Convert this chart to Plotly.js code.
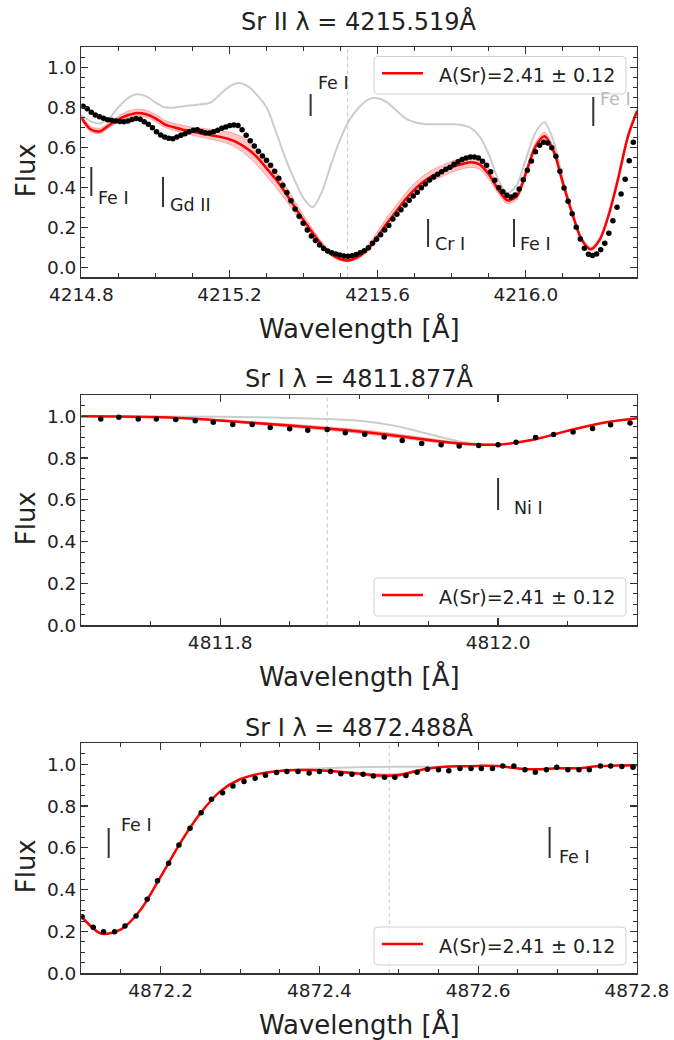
<!DOCTYPE html>
<html><head><meta charset="utf-8">
<script src="https://cdn.plot.ly/plotly-3.0.1.min.js"></script>
<style>html,body{margin:0;padding:0;background:#fff}#chart{width:674px;height:1040px}</style>
</head><body><div id="chart"></div>
<script>
// ---------------- DATA ----------------
const panelTitles = ['Sr II λ = 4215.519Å', 'Sr I λ = 4811.877Å', 'Sr I λ = 4872.488Å'];
const lineCenters = [4215.519, 4811.877, 4872.488];
const fitLabel = 'A(Sr)=2.41 ± 0.12';

// Panel 1 : Sr II 4215.519
const wl1m = [4214.800,4214.825,4214.850,4214.875,4214.900,4214.925,4214.950,4214.975,4215.000,4215.025,4215.050,4215.075,4215.100,4215.125,4215.150,4215.175,4215.200,4215.225,4215.250,4215.275,4215.300,4215.325,4215.350,4215.375,4215.400,4215.425,4215.450,4215.475,4215.500,4215.525,4215.550,4215.575,4215.600,4215.625,4215.650,4215.675,4215.700,4215.725,4215.750,4215.775,4215.800,4215.825,4215.850,4215.875,4215.900,4215.925,4215.950,4215.975,4216.000,4216.025,4216.050,4216.075,4216.100,4216.125,4216.150,4216.175,4216.200,4216.225,4216.250,4216.275,4216.300];
const red1 = [0.748,0.690,0.680,0.710,0.740,0.760,0.772,0.765,0.745,0.715,0.700,0.688,0.678,0.668,0.660,0.652,0.640,0.620,0.590,0.550,0.495,0.440,0.375,0.305,0.235,0.170,0.110,0.065,0.040,0.035,0.055,0.095,0.155,0.220,0.280,0.340,0.390,0.430,0.460,0.480,0.500,0.515,0.525,0.515,0.465,0.390,0.335,0.355,0.470,0.600,0.655,0.580,0.420,0.270,0.140,0.090,0.140,0.270,0.450,0.650,0.780];
const hi1 = [0.760,0.705,0.695,0.725,0.755,0.780,0.790,0.785,0.765,0.735,0.720,0.710,0.700,0.695,0.690,0.685,0.675,0.660,0.635,0.595,0.540,0.480,0.410,0.335,0.260,0.190,0.125,0.075,0.048,0.045,0.070,0.115,0.180,0.250,0.310,0.370,0.420,0.460,0.490,0.510,0.530,0.545,0.555,0.545,0.495,0.415,0.355,0.375,0.490,0.620,0.675,0.600,0.435,0.280,0.148,0.095,0.145,0.275,0.455,0.655,0.785];
const lo1 = [0.735,0.678,0.668,0.698,0.728,0.748,0.758,0.750,0.728,0.700,0.684,0.672,0.660,0.650,0.640,0.630,0.615,0.590,0.555,0.510,0.455,0.400,0.340,0.275,0.210,0.150,0.095,0.055,0.033,0.030,0.045,0.080,0.135,0.195,0.255,0.315,0.365,0.405,0.435,0.455,0.475,0.490,0.500,0.490,0.440,0.370,0.318,0.338,0.452,0.585,0.640,0.565,0.410,0.262,0.135,0.085,0.135,0.265,0.445,0.645,0.775];
const gray1 = [0.760,0.730,0.720,0.745,0.800,0.845,0.865,0.855,0.825,0.800,0.798,0.805,0.810,0.815,0.825,0.865,0.905,0.922,0.905,0.860,0.800,0.680,0.550,0.440,0.345,0.300,0.380,0.520,0.645,0.740,0.800,0.840,0.845,0.825,0.785,0.745,0.725,0.717,0.715,0.715,0.715,0.712,0.698,0.655,0.565,0.440,0.370,0.410,0.540,0.670,0.725,0.630,0.440,0.280,0.150,0.100,0.150,0.280,0.460,0.660,0.790];
const wl1 = [4214.805,4214.816,4214.827,4214.838,4214.849,4214.860,4214.871,4214.882,4214.893,4214.904,4214.915,4214.926,4214.937,4214.948,4214.959,4214.970,4214.981,4214.992,4215.003,4215.014,4215.025,4215.036,4215.047,4215.058,4215.069,4215.080,4215.091,4215.102,4215.113,4215.124,4215.135,4215.146,4215.157,4215.168,4215.179,4215.190,4215.201,4215.212,4215.223,4215.234,4215.245,4215.256,4215.267,4215.278,4215.289,4215.300,4215.311,4215.322,4215.333,4215.344,4215.355,4215.366,4215.377,4215.388,4215.399,4215.410,4215.421,4215.432,4215.443,4215.454,4215.465,4215.476,4215.487,4215.498,4215.509,4215.520,4215.531,4215.542,4215.553,4215.564,4215.575,4215.586,4215.597,4215.608,4215.619,4215.630,4215.641,4215.652,4215.663,4215.674,4215.685,4215.696,4215.707,4215.718,4215.729,4215.740,4215.751,4215.762,4215.773,4215.784,4215.795,4215.806,4215.817,4215.828,4215.839,4215.850,4215.861,4215.872,4215.883,4215.894,4215.905,4215.916,4215.927,4215.938,4215.949,4215.960,4215.971,4215.982,4215.993,4216.004,4216.015,4216.026,4216.037,4216.048,4216.059,4216.070,4216.081,4216.092,4216.103,4216.114,4216.125,4216.136,4216.147,4216.158,4216.169,4216.180,4216.191,4216.202,4216.213,4216.224,4216.235,4216.246,4216.257,4216.268,4216.279,4216.290];
const flux1 = [0.805,0.793,0.775,0.762,0.753,0.745,0.738,0.735,0.732,0.729,0.728,0.732,0.739,0.744,0.740,0.728,0.715,0.698,0.678,0.662,0.652,0.645,0.643,0.651,0.660,0.668,0.678,0.685,0.688,0.679,0.673,0.672,0.678,0.685,0.695,0.702,0.709,0.711,0.709,0.688,0.660,0.633,0.607,0.580,0.557,0.535,0.510,0.480,0.445,0.410,0.374,0.333,0.292,0.255,0.220,0.187,0.157,0.134,0.111,0.094,0.082,0.073,0.066,0.061,0.057,0.055,0.058,0.064,0.073,0.083,0.098,0.120,0.140,0.163,0.187,0.209,0.241,0.265,0.288,0.311,0.335,0.357,0.375,0.398,0.416,0.436,0.452,0.465,0.478,0.490,0.500,0.515,0.528,0.539,0.547,0.551,0.552,0.546,0.530,0.510,0.478,0.435,0.398,0.378,0.360,0.352,0.362,0.392,0.438,0.485,0.532,0.578,0.610,0.625,0.622,0.598,0.555,0.480,0.397,0.330,0.268,0.200,0.142,0.095,0.065,0.059,0.067,0.088,0.120,0.170,0.233,0.300,0.367,0.440,0.533,0.625];

// Panel 2 : Sr I 4811.877
const wl2m = [4811.700,4811.725,4811.750,4811.775,4811.800,4811.825,4811.850,4811.875,4811.900,4811.925,4811.950,4811.975,4812.000,4812.025,4812.050,4812.075,4812.100];
const red2 = [1.000,0.999,0.996,0.990,0.980,0.967,0.955,0.942,0.927,0.908,0.886,0.868,0.864,0.887,0.930,0.968,0.990];
const hi2 = [1.000,0.999,0.997,0.992,0.984,0.973,0.962,0.950,0.936,0.917,0.894,0.872,0.866,0.888,0.931,0.969,0.990];
const lo2 = [1.000,0.999,0.995,0.988,0.976,0.961,0.948,0.934,0.918,0.899,0.878,0.864,0.862,0.886,0.929,0.967,0.990];
const gray2 = [1.000,1.000,0.999,0.998,0.997,0.995,0.992,0.987,0.978,0.955,0.915,0.876,0.865,0.887,0.930,0.968,0.990];
const wl2 = [4811.714,4811.727,4811.741,4811.754,4811.768,4811.782,4811.795,4811.809,4811.823,4811.836,4811.850,4811.863,4811.877,4811.890,4811.904,4811.918,4811.931,4811.945,4811.959,4811.972,4811.986,4812.000,4812.013,4812.027,4812.040,4812.054,4812.068,4812.081,4812.095];
const flux2 = [0.987,0.995,0.987,0.987,0.984,0.978,0.971,0.960,0.960,0.946,0.940,0.933,0.937,0.921,0.914,0.900,0.884,0.870,0.863,0.857,0.860,0.863,0.876,0.898,0.913,0.925,0.941,0.959,0.967];

// Panel 3 : Sr I 4872.488
const wl3m = [4872.100,4872.125,4872.150,4872.175,4872.200,4872.225,4872.250,4872.275,4872.300,4872.325,4872.350,4872.375,4872.400,4872.425,4872.450,4872.475,4872.500,4872.525,4872.550,4872.575,4872.600,4872.625,4872.650,4872.675,4872.700,4872.725,4872.750,4872.775,4872.800];
const red3 = [0.272,0.190,0.210,0.305,0.462,0.625,0.765,0.870,0.928,0.955,0.968,0.972,0.971,0.964,0.955,0.946,0.948,0.970,0.985,0.990,0.992,0.991,0.980,0.976,0.981,0.981,0.990,0.994,0.995];
const hi3 = [0.272,0.190,0.210,0.305,0.462,0.625,0.765,0.870,0.928,0.955,0.968,0.972,0.973,0.968,0.961,0.954,0.955,0.974,0.985,0.990,0.992,0.991,0.980,0.976,0.981,0.981,0.990,0.994,0.995];
const lo3 = [0.272,0.190,0.210,0.305,0.462,0.625,0.765,0.870,0.928,0.955,0.968,0.972,0.969,0.959,0.948,0.938,0.940,0.966,0.985,0.990,0.992,0.991,0.980,0.976,0.981,0.981,0.990,0.994,0.995];
const gray3 = [0.272,0.190,0.210,0.305,0.462,0.625,0.765,0.870,0.928,0.955,0.968,0.976,0.980,0.983,0.986,0.987,0.988,0.988,0.988,0.990,0.992,0.991,0.980,0.976,0.981,0.981,0.990,0.994,0.995];
const wl3 = [4872.101,4872.115,4872.128,4872.142,4872.155,4872.169,4872.183,4872.196,4872.210,4872.223,4872.237,4872.251,4872.264,4872.278,4872.291,4872.305,4872.319,4872.332,4872.346,4872.359,4872.373,4872.387,4872.400,4872.414,4872.427,4872.441,4872.455,4872.468,4872.482,4872.495,4872.509,4872.523,4872.536,4872.550,4872.563,4872.577,4872.591,4872.604,4872.618,4872.631,4872.645,4872.659,4872.672,4872.686,4872.699,4872.713,4872.727,4872.740,4872.754,4872.767,4872.781,4872.795];
const flux3 = [0.271,0.220,0.199,0.199,0.226,0.274,0.354,0.443,0.526,0.614,0.694,0.768,0.833,0.864,0.896,0.917,0.933,0.947,0.960,0.965,0.965,0.958,0.965,0.965,0.954,0.952,0.952,0.944,0.938,0.938,0.946,0.961,0.976,0.973,0.969,0.980,0.979,0.979,0.979,0.992,0.992,0.973,0.961,0.973,0.986,0.973,0.973,0.973,0.992,0.992,0.989,0.986];

// Line identifications
const lineIds1 = ['Fe I', 'Fe I', 'Gd II', 'Cr I', 'Fe I', 'Fe I'];
const lineWl1 = [4215.419, 4214.827, 4215.0205, 4215.736, 4215.968, 4216.182];
const lineIds2 = ['Ni I'];
const lineWl2 = [4812.000];
const lineIds3 = ['Fe I', 'Fe I'];
const lineWl3 = [4872.1345, 4872.690];

// ---------------- LAYOUT / STYLE ----------------
const W = 674, H = 1040;
const px = v => v / W, py = v => 1 - v / H;
const FONT = 'DejaVu Sans, sans-serif';
const INK = '#222222';
const PL = 81.3, PR = 637, PH = 230, TOPS = [47.3, 395.3, 743.3];
const TITLE_Y = [21, 378.5, 727];

// marker placement (bar extent, text offset / height)
const idLayout = [
  [{y0:0.757,y1:0.866,dx:0.0143,ty:0.921},{y0:0.357,y1:0.502,dx:0.0127,ty:0.347},{y0:0.302,y1:0.452,dx:0.0135,ty:0.312},
   {y0:0.102,y1:0.242,dx:0.0135,ty:0.117},{y0:0.102,y1:0.242,dx:0.0100,ty:0.117},{y0:0.707,y1:0.852,dx:0.0125,ty:0.842,faded:true}],
  [{y0:0.551,y1:0.704,dx:0.010,ty:0.561}],
  [{y0:0.551,y1:0.695,dx:0.013,ty:0.710},{y0:0.551,y1:0.700,dx:0.009,ty:0.557}]
];
const legendBoxes = [[374, 56.5, 626, 94], [374, 578, 626, 616], [374, 927, 626, 965]];

const panels = [
  {wlm: wl1m, red: red1, hi: hi1, lo: lo1, gray: gray1, wl: wl1, flux: flux1, ids: lineIds1, idWl: lineWl1,
   range: [4214.8, 4216.3], tick0: 4214.8, dtick: 0.4, minor: 0.1, yrange: [-0.05, 1.1]},
  {wlm: wl2m, red: red2, hi: hi2, lo: lo2, gray: gray2, wl: wl2, flux: flux2, ids: lineIds2, idWl: lineWl2,
   range: [4811.7, 4812.1], tick0: 4811.8, dtick: 0.2, minor: 0.05, yrange: [0, 1.1]},
  {wlm: wl3m, red: red3, hi: hi3, lo: lo3, gray: gray3, wl: wl3, flux: flux3, ids: lineIds3, idWl: lineWl3,
   range: [4872.1, 4872.8001], tick0: 4872.2, dtick: 0.2, minor: 0.05, yrange: [0, 1.1]}
];

function axisBase(minorDtick, minorTick0) {
  return {showline: true, linecolor: '#333', linewidth: 1.2, mirror: 'allticks',
    ticks: 'inside', ticklen: 7, tickwidth: 1.2, tickcolor: '#333',
    minor: {ticks: 'inside', ticklen: 4, tickwidth: 1, tickcolor: '#333', dtick: minorDtick, tick0: minorTick0},
    showgrid: false, zeroline: false, tickmode: 'linear',
    tickfont: {family: FONT, size: 18.5, color: INK}, tickformat: '.1f',
    automargin: false, fixedrange: true};
}

function rrect(x0, y0, x1, y1, r) {
  const f = (x, y) => px(x).toFixed(5) + ',' + py(y).toFixed(5);
  return 'M' + f(x0 + r, y0) + ' L' + f(x1 - r, y0) + ' Q' + f(x1, y0) + ' ' + f(x1, y0 + r) +
    ' L' + f(x1, y1 - r) + ' Q' + f(x1, y1) + ' ' + f(x1 - r, y1) +
    ' L' + f(x0 + r, y1) + ' Q' + f(x0, y1) + ' ' + f(x0, y1 - r) +
    ' L' + f(x0, y0 + r) + ' Q' + f(x0, y0) + ' ' + f(x0 + r, y0) + ' Z';
}

const traces = [], shapes = [], annotations = [];
const layout = {width: W, height: H, margin: {l: 0, r: 0, t: 0, b: 0, pad: 0},
  paper_bgcolor: '#fff', plot_bgcolor: '#fff', showlegend: false,
  font: {family: FONT, color: INK}};

panels.forEach((p, k) => {
  const s = k === 0 ? '' : String(k + 1);
  const xa = 'x' + s, ya = 'y' + s;
  const top = TOPS[k];
  layout['xaxis' + s] = Object.assign(axisBase(p.minor, p.tick0), {
    domain: [px(PL), px(PR)], range: p.range, tick0: p.tick0, dtick: p.dtick, anchor: ya});
  layout['yaxis' + s] = Object.assign(axisBase(0.05, 0), {
    domain: [py(top + PH), py(top)], range: p.yrange, tick0: 0, dtick: 0.2, anchor: xa});

  const common = {xaxis: xa, yaxis: ya, hoverinfo: 'skip', showlegend: false};
  traces.push(Object.assign({x: p.wlm, y: p.gray, mode: 'lines', name: 'no Sr',
    line: {color: '#cccccc', width: 2, shape: 'spline', smoothing: 0.8}}, common));
  traces.push(Object.assign({x: p.wlm, y: p.lo, mode: 'lines', name: 'lower',
    line: {color: 'rgba(255,0,0,0.28)', width: 1, shape: 'spline', smoothing: 0.8}}, common));
  traces.push(Object.assign({x: p.wlm, y: p.hi, mode: 'lines', name: 'upper', fill: 'tonexty',
    fillcolor: 'rgba(255,0,0,0.22)',
    line: {color: 'rgba(255,0,0,0.28)', width: 1, shape: 'spline', smoothing: 0.8}}, common));
  traces.push(Object.assign({x: p.wlm, y: p.red, mode: 'lines', name: fitLabel,
    line: {color: '#ff0000', width: 2.5, shape: 'spline', smoothing: 0.8}}, common));
  traces.push(Object.assign({x: p.wl, y: p.flux, mode: 'markers', name: 'observed',
    marker: {color: '#000', size: 5.5}}, common));

  // rest wavelength dashed line
  shapes.push({type: 'line', xref: xa, yref: ya + ' domain', x0: lineCenters[k], x1: lineCenters[k], y0: 0, y1: 1,
    line: {color: '#c8c8c8', width: 1, dash: '4px,3px'}, layer: 'below'});

  // line identifications
  p.ids.forEach((lab, i) => {
    const L = idLayout[k][i];
    shapes.push({type: 'line', xref: xa, yref: ya, x0: p.idWl[i], x1: p.idWl[i], y0: L.y0, y1: L.y1,
      line: {color: '#333', width: 2}, layer: 'above'});
    annotations.push({text: lab, xref: xa, yref: ya, x: p.idWl[i] + L.dx, y: L.ty,
      xanchor: 'left', yanchor: 'middle', showarrow: false,
      font: {family: FONT, size: 17.5, color: L.faded ? '#b8b8b8' : INK}});
  });

  // titles and axis labels
  annotations.push({text: panelTitles[k], xref: 'paper', yref: 'paper', x: px((PL + PR) / 2), y: py(TITLE_Y[k]),
    xanchor: 'center', yanchor: 'middle', showarrow: false, font: {family: FONT, size: 24, color: INK}});
  annotations.push({text: 'Wavelength [Å]', xref: 'paper', yref: 'paper', x: px((PL + PR) / 2), y: py(top + PH + 51),
    xanchor: 'center', yanchor: 'middle', showarrow: false, font: {family: FONT, size: 26, color: INK}});
  annotations.push({text: 'Flux', xref: 'paper', yref: 'paper', x: px(26), y: py(top + PH / 2 + 8), textangle: -90,
    xanchor: 'center', yanchor: 'middle', showarrow: false, font: {family: FONT, size: 26, color: INK}});

  // legend box
  const b = legendBoxes[k];
  const cy = (b[1] + b[3]) / 2;
  shapes.push({type: 'path', xref: 'paper', yref: 'paper', path: rrect(b[0], b[1], b[2], b[3], 4),
    fillcolor: 'rgba(255,255,255,0.8)', line: {color: '#d0d0d0', width: 1}, layer: 'above'});
  shapes.push({type: 'line', xref: 'paper', yref: 'paper', x0: px(b[0] + 8), x1: px(b[0] + 49), y0: py(cy - 2), y1: py(cy - 2),
    line: {color: '#ff0000', width: 2.5}, layer: 'above'});
  annotations.push({text: fitLabel, xref: 'paper', yref: 'paper', x: px(b[0] + 63), y: py(cy),
    xanchor: 'left', yanchor: 'middle', showarrow: false, font: {family: FONT, size: 19, color: INK}});
});

layout.shapes = shapes;
layout.annotations = annotations;
Plotly.newPlot('chart', traces, layout, {displayModeBar: false, staticPlot: true});
</script></body></html>
